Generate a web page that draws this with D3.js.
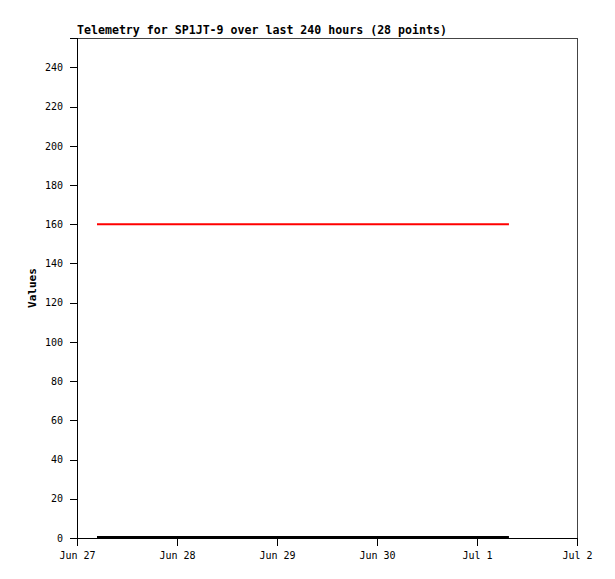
<!DOCTYPE html>
<html><head><meta charset="utf-8">
<script src="https://cdn.jsdelivr.net/npm/d3@7"></script>
<style>body{margin:0;background:#fff}svg{display:block}</style>
</head><body><svg id="c" width="615" height="579"></svg>
<script>
const titleText = "Telemetry for SP1JT-9 over last 240 hours (28 points)";
const yLabel = "Values";
const xDomain = ["2024-06-27T00:00", "2024-07-02T00:00"];
const xTickDates = ["2024-06-27","2024-06-28","2024-06-29","2024-06-30","2024-07-01","2024-07-02"];
const xTickLabels = ["Jun 27","Jun 28","Jun 29","Jun 30","Jul 1","Jul 2"];
const yTicks = [0,20,40,60,80,100,120,140,160,180,200,220,240];
const redTimes = ["2024-06-27T04:48","2024-07-01T07:40"];
const redValues = [160,160];
const blackTimes = ["2024-06-27T04:48","2024-07-01T07:40"];
const blackValues = [0.5,0.5];

const parse = d3.timeParse("%Y-%m-%dT%H:%M");
const parseD = d3.timeParse("%Y-%m-%d");
const svg = d3.select("#c");
const L = 77, R = 577, T = 38, B = 538;
const x = d3.scaleTime().domain(xDomain.map(parse)).range([L, R]);
const y = d3.scaleLinear().domain([0, 255]).range([B, T]);
const font = "'DejaVu Sans Mono', monospace";

svg.append("rect").attr("x", L).attr("y", T).attr("width", R - L).attr("height", B - T)
  .attr("fill", "none").attr("stroke", "#444").attr("stroke-width", 1)
  .attr("shape-rendering", "crispEdges");

const yAxis = d3.axisLeft(y).tickValues(yTicks).tickSize(7).tickPadding(7);
const gy = svg.append("g").attr("transform", `translate(${L},0)`).call(yAxis);
gy.select(".domain").attr("stroke", "#000").attr("shape-rendering", "crispEdges");
gy.selectAll(".tick line").attr("stroke", "#000").attr("shape-rendering", "crispEdges");
gy.selectAll("text").attr("font-family", font).attr("font-size", "10px").attr("fill", "#000");

const xAxis = d3.axisBottom(x).tickValues(xTickDates.map(parseD))
  .tickFormat((d, i) => xTickLabels[i]).tickSize(8).tickPadding(6);
const gx = svg.append("g").attr("transform", `translate(0,${B})`).call(xAxis);
gx.select(".domain").attr("stroke", "#000").attr("shape-rendering", "crispEdges");
gx.selectAll(".tick line").attr("stroke", "#000").attr("shape-rendering", "crispEdges");
gx.selectAll("text").attr("font-family", font).attr("font-size", "10px").attr("fill", "#000");

const line = d3.line().x(d => x(d[0])).y(d => y(d[1]));
svg.append("path").datum(redTimes.map((t, i) => [parse(t), redValues[i]]))
  .attr("d", line).attr("fill", "none").attr("stroke", "#ff0000").attr("stroke-width", 2);
svg.append("path").datum(blackTimes.map((t, i) => [parse(t), blackValues[i]]))
  .attr("d", line).attr("fill", "none").attr("stroke", "#000").attr("stroke-width", 2);

svg.append("text").attr("x", L).attr("y", 34).text(titleText)
  .attr("font-family", font).attr("font-size", "11.6px").attr("font-weight", "bold");
svg.append("text").attr("transform", `translate(36,${(T + B) / 2}) rotate(-90)`)
  .attr("text-anchor", "middle").text(yLabel)
  .attr("font-family", font).attr("font-size", "11px").attr("font-weight", "bold");
</script></body></html>
